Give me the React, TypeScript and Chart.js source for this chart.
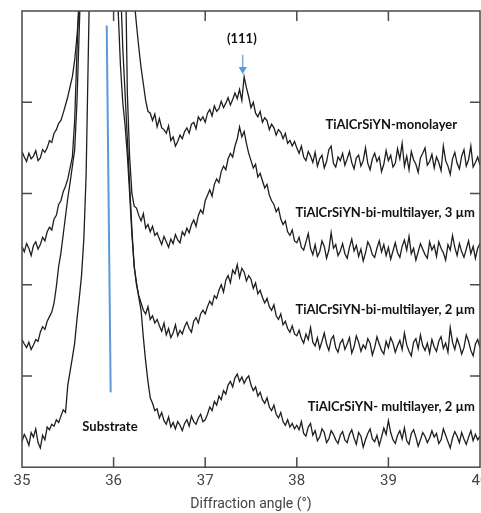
import React, { useEffect, useRef } from "react";
import { Chart, registerables } from "chart.js";

Chart.register(...registerables);

// ---- data ----
const angleStart = 35;
const angleStep = 0.025;
const xTickValues = [35, 36, 37, 38, 39, 40];
const yTickValues = [1, 2, 3, 4];

const seriesNames = [
  "TiAlCrSiYN-monolayer",
  "TiAlCrSiYN-bi-multilayer, 3 µm",
  "TiAlCrSiYN-bi-multilayer, 2 µm",
  "TiAlCrSiYN- multilayer, 2 µm",
];

const monolayer = [
  3.46, 3.40, 3.35, 3.44, 3.38, 3.41, 3.47, 3.36, 3.39, 3.48, 3.45, 3.50, 3.58, 3.56, 3.66, 3.70, 3.77, 3.80, 3.88, 3.97,
  4.06, 4.17, 4.28, 4.46, 4.72, 5.05, 5.6, 6.4, 7.3, 8.2, 9.0, 9.6, 10.0, 10.3, 10.5, 10.5, 10.4, 10.2, 10.0, 9.7,
  9.3, 8.8, 8.3, 7.8, 7.2, 6.6, 6.1, 5.7, 5.4, 5.12, 4.85, 4.6, 4.38, 4.2, 4.02, 3.9, 3.88, 3.80, 3.87, 3.73,
  3.82, 3.72, 3.70, 3.66, 3.74, 3.58, 3.62, 3.52, 3.57, 3.64, 3.60, 3.68, 3.72, 3.66, 3.76, 3.78, 3.71, 3.84, 3.80, 3.84,
  3.78, 3.88, 3.92, 3.85, 3.96, 3.90, 3.93, 4.01, 3.94, 3.99, 4.05, 3.97, 4.03, 4.10, 4.04, 4.14, 4.02, 4.28, 4.16, 4.06,
  3.94, 4.00, 3.88, 3.84, 3.90, 3.78, 3.83, 3.80, 3.70, 3.76, 3.72, 3.64, 3.70, 3.67, 3.60, 3.66, 3.55, 3.58, 3.52, 3.57,
  3.50, 3.44, 3.52, 3.40, 3.36, 3.46, 3.41, 3.34, 3.45, 3.30, 3.38, 3.42, 3.28, 3.35, 3.48, 3.52, 3.33, 3.29, 3.40, 3.36,
  3.44, 3.31, 3.38, 3.46, 3.34, 3.27, 3.39, 3.42, 3.30, 3.36, 3.50, 3.33, 3.26, 3.38, 3.44, 3.35, 3.40, 3.24, 3.32, 3.47,
  3.36, 3.42, 3.29, 3.33, 3.49, 3.38, 3.55, 3.30, 3.41, 3.26, 3.46, 3.37, 3.32, 3.23, 3.39, 3.44, 3.50, 3.31, 3.35, 3.43,
  3.28, 3.40, 3.34, 3.25, 3.52, 3.36, 3.30, 3.21, 3.38, 3.45, 3.33, 3.27, 3.41, 3.48, 3.30, 3.37, 3.52, 3.29, 3.34, 3.40,
  3.31,
];

const biMultilayer3 = [
  2.42, 2.36, 2.45, 2.40, 2.32, 2.43, 2.47, 2.39, 2.44, 2.52, 2.48, 2.58, 2.63, 2.60, 2.72, 2.76, 2.88, 2.92, 3.02, 3.08,
  3.16, 3.28, 3.40, 3.80, 4.55, 5.25, 6.1, 7.0, 7.9, 8.7, 9.4, 9.9, 10.3, 10.6, 10.8, 10.8, 10.7, 10.5, 10.2, 9.9,
  9.5, 9.0, 8.4, 7.7, 7.0, 5.8, 4.1, 3.40, 3.00, 2.86, 2.84, 2.76, 2.70, 2.78, 2.62, 2.66, 2.58, 2.64, 2.54, 2.57,
  2.50, 2.44, 2.53, 2.47, 2.41, 2.50, 2.45, 2.55, 2.49, 2.46, 2.58, 2.54, 2.62, 2.57, 2.66, 2.71, 2.64, 2.76, 2.82, 2.78,
  2.92, 2.98, 3.04, 2.97, 3.10, 3.16, 3.12, 3.24, 3.30, 3.26, 3.38, 3.44, 3.40, 3.52, 3.60, 3.73, 3.62, 3.68, 3.55, 3.44,
  3.36, 3.28, 3.32, 3.18, 3.22, 3.14, 3.06, 3.10, 2.98, 2.92, 2.88, 2.80, 2.84, 2.72, 2.66, 2.70, 2.58, 2.54, 2.60, 2.48,
  2.46, 2.52, 2.41, 2.38, 2.47, 2.56, 2.40, 2.33, 2.44, 2.31, 2.36, 2.48, 2.42, 2.29, 2.38, 2.57, 2.40, 2.44, 2.32, 2.37,
  2.45, 2.34, 2.29, 2.41, 2.50, 2.37, 2.43, 2.31, 2.39, 2.26, 2.35, 2.47, 2.42, 2.33, 2.30, 2.40, 2.48, 2.36, 2.44, 2.32,
  2.41, 2.28, 2.37, 2.46, 2.35, 2.30, 2.42, 2.49, 2.38, 2.53, 2.34, 2.40, 2.27, 2.36, 2.45, 2.39, 2.33, 2.29, 2.47, 2.38,
  2.43, 2.31, 2.47, 2.40, 2.35, 2.27, 2.44, 2.38, 2.54, 2.41, 2.32, 2.45, 2.36, 2.30, 2.39, 2.48, 2.34, 2.42, 2.29, 2.40,
  2.45,
];

const biMultilayer2 = [
  1.40, 1.35, 1.31, 1.37, 1.29, 1.34, 1.40, 1.38, 1.48, 1.54, 1.51, 1.60, 1.65, 1.70, 1.80, 1.98, 2.20, 2.35, 2.55, 2.75,
  2.95, 3.12, 3.30, 3.48, 4.00, 4.80, 5.6, 6.5, 7.4, 8.2, 8.9, 9.4, 9.8, 10.0, 10.1, 10.1, 10.0, 9.8, 9.5, 9.1,
  8.6, 7.3, 6.0, 5.3, 4.6, 4.1, 3.6, 3.1, 2.6, 2.2, 2.0, 1.88, 1.80, 1.72, 1.68, 1.76, 1.62, 1.66, 1.58, 1.62,
  1.55, 1.49, 1.58, 1.45, 1.52, 1.42, 1.47, 1.56, 1.44, 1.50, 1.46, 1.54, 1.59, 1.52, 1.48, 1.60, 1.64, 1.58, 1.68, 1.72,
  1.68, 1.76, 1.82, 1.78, 1.88, 1.85, 1.94, 2.00, 1.92, 2.05, 2.10, 2.02, 2.16, 2.12, 2.22, 2.08, 2.18, 2.14, 2.04, 2.10,
  2.06, 1.96, 2.02, 1.90, 1.94, 1.86, 1.80, 1.85, 1.76, 1.72, 1.78, 1.66, 1.62, 1.68, 1.56, 1.60, 1.52, 1.48, 1.55, 1.46,
  1.44, 1.50, 1.41, 1.36, 1.46, 1.40, 1.53, 1.37, 1.33, 1.42, 1.30, 1.38, 1.47, 1.35, 1.28, 1.40, 1.44, 1.31, 1.26, 1.36,
  1.40, 1.29, 1.35, 1.42, 1.25, 1.32, 1.44, 1.37, 1.27, 1.34, 1.30, 1.41, 1.36, 1.23, 1.31, 1.43, 1.35, 1.28, 1.24, 1.38,
  1.31, 1.42, 1.36, 1.26, 1.33, 1.39, 1.29, 1.47, 1.34, 1.27, 1.22, 1.37, 1.41, 1.30, 1.45, 1.33, 1.28, 1.36, 1.25, 1.40,
  1.32, 1.27, 1.38, 1.43, 1.30, 1.36, 1.26, 1.53, 1.37, 1.29, 1.41, 1.34, 1.24, 1.31, 1.45, 1.38, 1.28, 1.22, 1.35, 1.40,
  1.31,
];

const multilayer2 = [
  0.28, 0.36, 0.31, 0.24, 0.38, 0.33, 0.42, 0.27, 0.21, 0.35, 0.30, 0.44, 0.41, 0.47, 0.45, 0.52, 0.49, 0.56, 0.63, 0.60,
  0.90, 1.05, 1.20, 1.36, 1.62, 1.85, 2.10, 2.50, 3.20, 4.60, 6.0, 7.2, 8.2, 8.9, 9.3, 9.4, 9.3, 9.0, 8.6, 7.9,
  7.0, 5.8, 5.0, 4.4, 4.0, 3.75, 3.42, 3.0, 2.55, 2.2, 2.02, 1.86, 1.72, 1.42, 1.16, 0.94, 0.76, 0.70, 0.62, 0.64,
  0.54, 0.60, 0.51, 0.47, 0.55, 0.44, 0.49, 0.42, 0.50, 0.46, 0.40, 0.48, 0.52, 0.45, 0.56, 0.50, 0.47, 0.54, 0.58, 0.50,
  0.52, 0.58, 0.66, 0.62, 0.72, 0.68, 0.78, 0.74, 0.84, 0.80, 0.90, 0.94, 0.88, 0.98, 1.02, 0.94, 0.99, 0.92, 0.97, 1.00,
  0.90, 0.84, 0.88, 0.78, 0.82, 0.74, 0.70, 0.76, 0.66, 0.62, 0.68, 0.58, 0.54, 0.60, 0.50, 0.46, 0.52, 0.44, 0.48, 0.42,
  0.46, 0.41, 0.50, 0.37, 0.34, 0.44, 0.48, 0.35, 0.40, 0.29, 0.33, 0.42, 0.38, 0.27, 0.31, 0.40, 0.36, 0.30, 0.26, 0.35,
  0.39, 0.30, 0.27, 0.36, 0.41, 0.32, 0.25, 0.38, 0.34, 0.22, 0.30, 0.37, 0.42, 0.31, 0.28, 0.35, 0.24, 0.33, 0.43, 0.36,
  0.51, 0.38, 0.30, 0.26, 0.35, 0.40, 0.31, 0.43, 0.29, 0.25, 0.37, 0.41, 0.33, 0.23, 0.30, 0.38, 0.34, 0.27, 0.32, 0.40,
  0.33, 0.37, 0.26, 0.30, 0.42, 0.35, 0.28, 0.21, 0.32, 0.39, 0.34, 0.27, 0.38, 0.31, 0.25, 0.33, 0.40, 0.29, 0.36, 0.30,
  0.34,
];

// substrate marker line and (111) arrow (data coordinates)
const substrateLineX = [35.925, 35.968];
const substrateLineY = [4.84, 0.82];
const peakArrowX = [37.41, 37.41];
const peakArrowY = [4.52, 4.36];

// text annotations (data coordinates)
const annotationTexts = ["(111)", "Substrate", ...seriesNames];
const annotationX = [37.4, 35.96, 39.75, 39.945, 39.945, 39.945];
const annotationY = [4.7, 0.44, 3.75, 2.785, 1.73, 0.66];
const annotationAlign = ["center", "center", "right", "right", "right", "right"];

const seriesValues = [monolayer, biMultilayer3, biMultilayer2, multilayer2];

const toPoints = (vals: number[]) =>
  vals.map((v, i) => ({ x: +(angleStart + i * angleStep).toFixed(3), y: v }));

const framePlugin = {
  id: "frameTicksLabels",
  afterDatasetsDraw(chart: any) {
    const { ctx, chartArea: a, scales } = chart;
    const xs = scales.x;
    const ys = scales.y;
    ctx.save();
    ctx.strokeStyle = "#4a4a4a";
    ctx.lineWidth = 1.5;
    ctx.strokeRect(a.left, a.top, a.right - a.left, a.bottom - a.top);
    const tl = 10;
    ctx.beginPath();
    for (const v of xTickValues) {
      if (v === xTickValues[0] || v === xTickValues[xTickValues.length - 1]) continue;
      const px = xs.getPixelForValue(v);
      ctx.moveTo(px, a.bottom);
      ctx.lineTo(px, a.bottom - tl);
      ctx.moveTo(px, a.top);
      ctx.lineTo(px, a.top + tl);
    }
    for (const v of yTickValues) {
      const py = ys.getPixelForValue(v);
      ctx.moveTo(a.left, py);
      ctx.lineTo(a.left + tl, py);
      ctx.moveTo(a.right, py);
      ctx.lineTo(a.right - tl, py);
    }
    ctx.stroke();

    ctx.fillStyle = "#111";
    ctx.font = "bold 13px Lato";
    ctx.textBaseline = "middle";
    annotationTexts.forEach((t, i) => {
      ctx.textAlign = annotationAlign[i];
      ctx.fillText(t, xs.getPixelForValue(annotationX[i]), ys.getPixelForValue(annotationY[i]));
    });
    ctx.restore();
  },
};

export default function App() {
  const canvasRef = useRef<HTMLCanvasElement | null>(null);

  useEffect(() => {
    if (!canvasRef.current) return;
    const blue = "#5b9bd5";
    const datasets: any[] = seriesValues.map((vals, i) => ({
      label: seriesNames[i],
      data: toPoints(vals),
      borderColor: "#1e1e1e",
      borderWidth: 1.3,
      pointRadius: 0,
      tension: 0,
      fill: false,
    }));
    datasets.push({
      label: "Substrate",
      data: substrateLineX.map((x, i) => ({ x, y: substrateLineY[i] })),
      borderColor: blue,
      borderWidth: 2,
      pointRadius: 0,
    });
    datasets.push({
      label: "(111)",
      data: peakArrowX.map((x, i) => ({ x, y: peakArrowY[i] })),
      borderColor: blue,
      backgroundColor: blue,
      borderWidth: 1.2,
      pointStyle: "triangle",
      rotation: 180,
      pointRadius: [0, 3.5],
    });

    const chart = new Chart(canvasRef.current, {
      type: "line",
      data: { datasets },
      options: {
        animation: false,
        responsive: false,
        layout: { padding: { left: 22, right: 20, top: 11, bottom: 0 } },
        plugins: { legend: { display: false }, tooltip: { enabled: false } },
        scales: {
          x: {
            type: "linear",
            min: 35,
            max: 40,
            grid: { display: false, drawTicks: false },
            border: { display: false },
            afterBuildTicks: (scale: any) => {
              scale.ticks = xTickValues.map((v) => ({ value: v }));
            },
            ticks: {
              padding: 5,
              color: "#444",
              font: { family: "Roboto", size: 15 },
            },
            title: {
              display: true,
              text: "Diffraction angle (°)",
              color: "#444",
              font: { family: "Roboto", size: 14 },
              padding: { top: 1, bottom: 0 },
            },
          },
          y: {
            type: "linear",
            min: 0,
            max: 5,
            display: false,
          },
        },
      },
      plugins: [framePlugin],
    });
    return () => chart.destroy();
  }, []);

  return (
    <div
      style={{
        position: "fixed",
        left: 0,
        top: 0,
        width: 481,
        height: 513,
        overflow: "hidden",
        background: "#fff",
      }}
    >
      <canvas ref={canvasRef} width={500} height={513} />
    </div>
  );
}
